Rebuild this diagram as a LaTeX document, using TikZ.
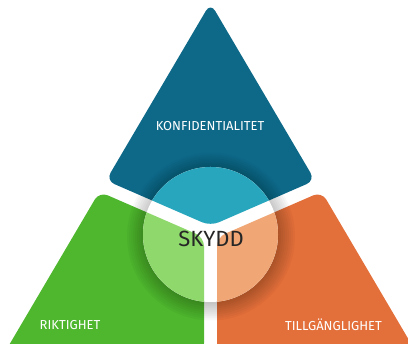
\documentclass[tikz,border=0pt]{standalone}
\usepackage{fontspec}
\setmainfont{Fira Sans}
\usepackage{tikz}
\usetikzlibrary{calc}

\definecolor{konfblue}{RGB}{14,105,137}
\definecolor{konflight}{RGB}{40,166,189}
\definecolor{riktgreen}{RGB}{78,183,46}
\definecolor{riktlight}{RGB}{142,216,108}
\definecolor{tillorange}{RGB}{227,111,58}
\definecolor{tilllight}{RGB}{240,167,117}

\newcommand{\konfpiece}{(T) -- (bR) -- (bV) -- (bL) -- cycle}
\newcommand{\riktpiece}{(gT) -- (gI) -- (204,-8) -- (BL) -- cycle}
\newcommand{\tillpiece}{(oT) -- (BR) -- (217,-8) -- (oI) -- cycle}

\begin{document}
\begin{tikzpicture}[x=1pt, y=1pt,
	partlabel/.style={text=white, font=\fontsize{13}{15}\selectfont},
	piece/.style={rounded corners=9pt}]
	\useasboundingbox (0,0) rectangle (408,344);
	
	\coordinate (T) at (210.5,341);
	\coordinate (BL) at (5,-8);
	\coordinate (BR) at (416,-8);
	\coordinate (O) at (210.5,111);
	\coordinate (C) at (210.5,109.5);
	
	\coordinate (B1) at ($(O)+(2.59,5.96)$);
	\coordinate (B2) at ($(B1)+(-183.4,79.8)$);
	\coordinate (B3) at ($(O)+(-2.59,5.96)$);
	\coordinate (B4) at ($(B3)+(183.4,79.8)$);
	\coordinate (G1) at ($(O)+(-2.59,-5.96)$);
	\coordinate (G2) at ($(G1)+(-183.4,79.8)$);
	\coordinate (R1) at ($(O)+(2.59,-5.96)$);
	\coordinate (R2) at ($(R1)+(183.4,79.8)$);
	\coordinate (S1) at (204,0);
	\coordinate (S2) at (204,200);
	\coordinate (S3) at (217,0);
	\coordinate (S4) at (217,200);
	
	\coordinate (bL) at (intersection of T--BL and B1--B2);
	\coordinate (bR) at (intersection of T--BR and B3--B4);
	\coordinate (bV) at (intersection of B1--B2 and B3--B4);
	\coordinate (gT) at (intersection of T--BL and G1--G2);
	\coordinate (gI) at (intersection of G1--G2 and S1--S2);
	\coordinate (oT) at (intersection of T--BR and R1--R2);
	\coordinate (oI) at (intersection of R1--R2 and S3--S4);
	
	\fill[piece, konfblue] \konfpiece;
	\fill[piece, riktgreen] \riktpiece;
	\fill[piece, tillorange] \tillpiece;
	
	\foreach \r in {68,70,...,84}
		\fill[black, opacity=0.028] ($(C)+(0.5,-2)$) circle (\r);
	
	\fill[white] (C) circle (67.5);
	\begin{scope}
		\clip (C) circle (67.5);
		\fill[piece, konflight] \konfpiece;
		\fill[piece, riktlight] \riktpiece;
		\fill[piece, tilllight] \tillpiece;
	\end{scope}
	
	\node[partlabel] (konf) at (210,217.5) {KONFIDENTIALITET};
	\node[partlabel] (rikt) at (70,19) {RIKTIGHET};
	\node[partlabel] (tillg) at (333.5,19) {TILLGÄNGLIGHET};
	\node[text=black!85, font=\fontsize{22}{26}\selectfont] (skydd) at (211,105.5) {SKYDD};
\end{tikzpicture}
\end{document}
